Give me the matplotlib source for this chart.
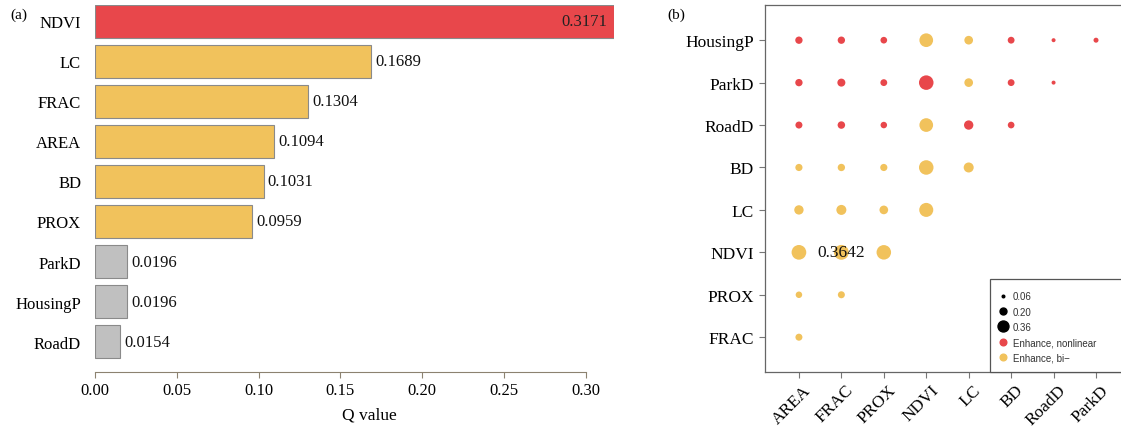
import numpy as np
import matplotlib
matplotlib.use("Agg")
import matplotlib.pyplot as plt
import matplotlib.transforms as mtransforms
from matplotlib.lines import Line2D
from matplotlib.patches import Rectangle

plt.rcParams["font.family"] = ["Liberation Serif", "DejaVu Serif"]

# (a) single-factor q values, bottom -> top
factors = ["RoadD", "HousingP", "ParkD", "PROX", "BD", "AREA", "FRAC", "LC", "NDVI"]
q_values = [0.0154, 0.0196, 0.0196, 0.0959, 0.1031, 0.1094, 0.1304, 0.1689, 0.3171]

# (b) interaction q values, lower-triangle layout (row i has i+1 entries)
int_cols = ["AREA", "FRAC", "PROX", "NDVI", "LC", "BD", "RoadD", "ParkD"]
int_rows = ["FRAC", "PROX", "NDVI", "LC", "BD", "RoadD", "ParkD", "HousingP"]
int_q = [
    [0.130],
    [0.115, 0.130],
    [0.360, 0.3642, 0.355],
    [0.200, 0.220, 0.180, 0.340],
    [0.135, 0.140, 0.135, 0.355, 0.220],
    [0.130, 0.145, 0.115, 0.330, 0.200, 0.120],
    [0.140, 0.160, 0.125, 0.355, 0.180, 0.125, 0.040],
    [0.140, 0.140, 0.120, 0.330, 0.180, 0.125, 0.040, 0.070],
]
# N = enhance, nonlinear ; B = enhance, bi-
int_type = ["B", "BB", "BBB", "BBBB", "BBBBB", "NNNBNN", "NNNNBNN", "NNNBBNNN"]
legend_sizes = [0.06, 0.20, 0.36]

RED = "#e8474b"
YEL = "#f1c25c"
GRAY = "#c0c0c0"
DPI = 100

fig = plt.figure(figsize=(11.21, 4.27), dpi=DPI)

# ---- (a) bar chart ----
ax1 = fig.add_axes([0.0847, 0.1265, 0.463, 0.8595])
qmax = max(q_values)
colors = [RED if q == qmax else (GRAY if q < 0.05 else YEL) for q in q_values]
y = np.arange(len(factors))
ax1.barh(y, q_values, height=0.83, color=colors, edgecolor="#8a8a8a", linewidth=0.8)
for yi, q in zip(y, q_values):
    if q == qmax:
        ax1.annotate(f"{q:.4f}", (q, yi), xytext=(-5, 0), textcoords="offset points",
                     ha="right", va="center", fontsize=12, color="#222")
    else:
        ax1.annotate(f"{q:.4f}", (q, yi), xytext=(3, 0), textcoords="offset points",
                     ha="left", va="center", fontsize=12, color="#111")
ax1.set_xlim(0, qmax)
ax1.set_ylim(-0.76, 8.41)
ax1.set_yticks(y, factors, fontsize=12)
xt = np.arange(0, 0.301, 0.05)
ax1.set_xticks(xt, [f"{v:.2f}" for v in xt], fontsize=12)
ax1.tick_params(axis="y", length=0, pad=10)
ax1.tick_params(axis="x", length=4, color="#8c8270", pad=3.5)
for s in ("top", "right", "left"):
    ax1.spines[s].set_visible(False)
ax1.spines["bottom"].set_color("#8c8270")
ax1.spines["bottom"].set_bounds(0, 0.30)
ax1.set_xlabel("Q value", fontsize=12.5)
ax1.xaxis.set_label_coords(0.528, -0.093)
fig.text(0.009, 0.965, "(a)", fontsize=11, va="center")

# ---- (b) interaction bubbles ----
ax2 = fig.add_axes([0.6824, 0.1265, 0.3256, 0.8595])


def dot_size(v):
    d_px = 2.66 + 33.4 * v
    return (d_px * 72 / DPI) ** 2


for ri, (vals, types) in enumerate(zip(int_q, int_type)):
    for ci, (v, t) in enumerate(zip(vals, types)):
        ax2.scatter(ci, ri, s=dot_size(v), color=RED if t == "N" else YEL,
                    edgecolors="none", zorder=3)

# annotate the strongest interaction
best = max((v, ri, ci) for ri, vals in enumerate(int_q) for ci, v in enumerate(vals))
ax2.text(best[2], best[1], f"{best[0]:.4f}", ha="center", va="center",
         fontsize=12.5, color="#111", zorder=4)

ax2.set_xlim(-0.8, 7.8)
ax2.set_ylim(-0.82, 7.83)
ax2.set_xticks(range(len(int_cols)), int_cols, fontsize=12.5)
ax2.set_yticks(range(len(int_rows)), int_rows, fontsize=12.5)
ax2.tick_params(length=4, color="#777", pad=4)
ax2.tick_params(axis="x", pad=3)
# rotated labels, nudged a few px right of the tick (after tick_params, which resets transforms)
shift = mtransforms.ScaledTranslation(3 / 72, 0, fig.dpi_scale_trans)
for lab in ax2.get_xticklabels():
    lab.set_rotation(45)
    lab.set_ha("right")
    lab.set_va("top")
    lab.set_rotation_mode("anchor")
    lab.set_transform(lab.get_transform() + shift)
for s in ax2.spines.values():
    s.set_color("#666")
    s.set_linewidth(0.9)

handles = [Line2D([], [], marker="o", ls="", color="black", markersize=ms)
           for ms in (1.9, 5.0, 7.9)]
labels = [f"{v:.2f}" for v in legend_sizes]
handles += [Line2D([], [], marker="o", ls="", color=RED, markersize=4.8),
            Line2D([], [], marker="o", ls="", color=YEL, markersize=4.8)]
labels += ["Enhance, nonlinear", "Enhance, bi\u2212"]
ax2.add_patch(Rectangle((0.616, 0.0), 0.6, 0.253, transform=ax2.transAxes,
                        facecolor="white", edgecolor="#555", linewidth=0.9,
                        clip_on=False, zorder=5))
leg = ax2.legend(handles, labels, loc="upper left", bbox_to_anchor=(0.62, 0.236),
                 frameon=False, prop={"family": "Liberation Sans", "size": 7},
                 handlelength=1.2, handletextpad=0.4, labelspacing=0.55,
                 borderaxespad=0.2)
leg.set_zorder(6)
for t in leg.get_texts():
    t.set_color("#333")
fig.text(0.595, 0.965, "(b)", fontsize=11, va="center")

fig.savefig("out.png", dpi=DPI)
